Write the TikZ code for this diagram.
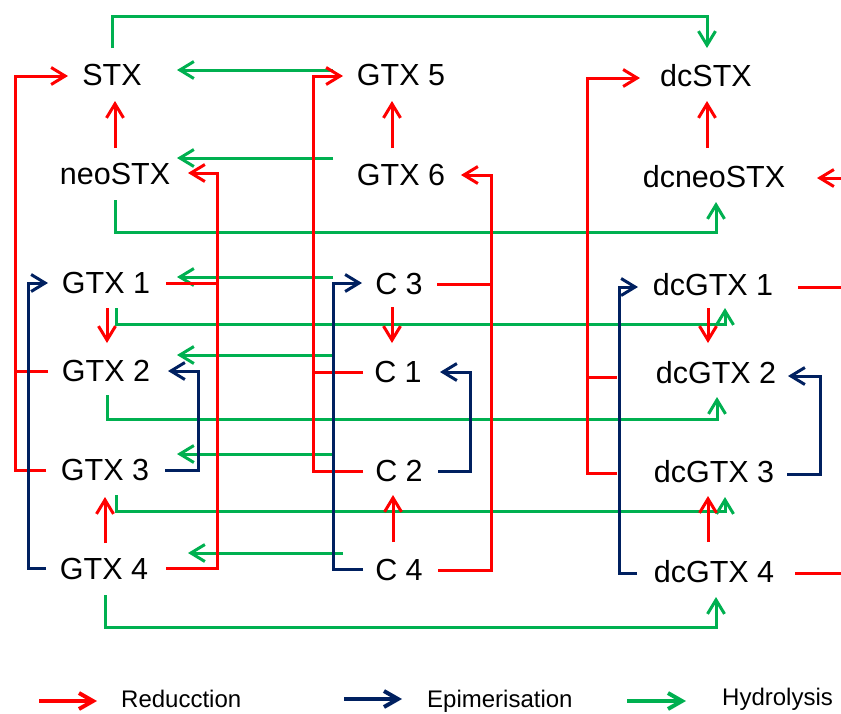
\documentclass[tikz,border=0pt]{standalone}
\usepackage{fontspec}
\setmainfont{Liberation Sans}
\usetikzlibrary{arrows.meta,calc}
\definecolor{rd}{HTML}{FF0000}
\definecolor{gn}{HTML}{00B050}
\definecolor{nv}{HTML}{002060}
\begin{document}
\begin{tikzpicture}[x=1pt,y=-1pt,
  lbl/.style={inner sep=0pt,font=\fontsize{30.5}{36}\selectfont},
  leg/.style={inner sep=0pt,anchor=base west,font=\fontsize{24}{28}\selectfont},
  tipx/.style={-{Straight Barb[length=14pt,width=17pt]}},
  legtip/.style={-{Straight Barb[length=14pt,width=16pt]}},
  rl/.style={draw=rd,line width=3pt},
  gl/.style={draw=gn,line width=3pt},
  nl/.style={draw=nv,line width=3pt},
  legline/.style={line width=4pt,legtip}]
\useasboundingbox (0,0) rectangle (841,713);
\clip (0,0) rectangle (841,713);
% nodes
\node[lbl] (stx) at (112,75) {STX};
\node[lbl] (neo) at (115,174) {neoSTX};
\node[lbl] (g1) at (106,283) {GTX 1};
\node[lbl] (g2) at (106,371) {GTX 2};
\node[lbl] (g3) at (105,470) {GTX 3};
\node[lbl] (g4) at (104,569) {GTX 4};
\node[lbl] (g5) at (401,75) {GTX 5};
\node[lbl] (g6) at (401,175) {GTX 6};
\node[lbl] (c3) at (399,284) {C 3};
\node[lbl] (c1) at (398,372) {C 1};
\node[lbl] (c2) at (399,471) {C 2};
\node[lbl] (c4) at (399,570) {C 4};
\node[lbl] (dcs) at (706,76) {dcSTX};
\node[lbl] (dcn) at (714,177) {dcneoSTX};
\node[lbl] (d1) at (713,285) {dcGTX 1};
\node[lbl] (d2) at (716,373) {dcGTX 2};
\node[lbl] (d3) at (714,472) {dcGTX 3};
\node[lbl] (d4) at (714,572) {dcGTX 4};
% green: hydrolysis
\draw[gl,tipx] ($(stx)+(0,-27)$) |- ($(dcs)+(1,-60)$) -- ($(dcs)+(1,-28)$);
\draw[gl,tipx] ($(g5)+(-68,-5)$) -- ($(stx)+(65,-5)$);
\draw[gl,tipx] ($(g6)+(-68,-17)$) -- ($(neo)+(62,-16)$);
\draw[gl,tipx] ($(neo)+(0,26)$) -- ($(neo)+(0,58)$) -| ($(dcn)+(2,25)$);
\draw[gl,tipx] ($(c3)+(-66,-7)$) -- ($(g1)+(71,-6)$);
\draw[gl,tipx] ($(g1)+(10,25)$) -- ($(g1)+(10,41)$) -| ($(d1)+(12,23)$);
\draw[gl,tipx] ($(c1)+(-65,-17)$) -- ($(g2)+(71,-16)$);
\draw[gl,tipx] ($(g2)+(1,24)$) -- ($(g2)+(1,48)$) -| ($(d2)+(1,24)$);
\draw[gl,tipx] ($(c2)+(-66,-17)$) -- ($(g3)+(72,-16)$);
\draw[gl,tipx] ($(g3)+(11,25)$) -- ($(g3)+(11,41)$) -| ($(d3)+(11,25)$);
\draw[gl,tipx] ($(c4)+(-56,-17)$) -- ($(g4)+(84,-16)$);
\draw[gl,tipx] ($(g4)+(1,26)$) -- ($(g4)+(1,58)$) -| ($(d4)+(2,25)$);
% red: reduction
\draw[rl,tipx] ($(neo)+(0,-26)$) -- ($(stx)+(3,26)$);
\draw[rl,tipx] ($(g6)+(-9,-27)$) -- ($(g5)+(-9,26)$);
\draw[rl,tipx] ($(dcn)+(-7,-29)$) -- ($(dcs)+(1,25)$);
\draw[rl,tipx] ($(g1)+(1,25)$) -- ($(g2)+(1,-28)$);
\draw[rl,tipx] ($(c3)+(-7,23)$) -- ($(c1)+(-6,-29)$);
\draw[rl,tipx] ($(d1)+(-5,23)$) -- ($(d2)+(-8,-30)$);
\draw[rl,tipx] ($(g4)+(1,-26)$) -- ($(g3)+(0,27)$);
\draw[rl,tipx] ($(c4)+(-6,-28)$) -- ($(c2)+(-6,24)$);
\draw[rl,tipx] ($(d4)+(-6,-30)$) -- ($(d3)+(-6,24)$);
\draw[rl,tipx] ($(g3)+(-59,0)$) -- (15,470) |- ($(stx)+(-44,1)$);
\draw[rl] ($(g2)+(-58,0)$) -- (15,371);
\draw[rl,tipx] ($(c2)+(-36,0)$) -- (313,471) |- ($(g5)+(-58,1)$);
\draw[rl] ($(c1)+(-35,0)$) -- (313,372);
\draw[rl,tipx] ($(g4)+(62,-1)$) -- (217,568) |- ($(neo)+(73,-1)$);
\draw[rl] ($(g1)+(60,0)$) -- (217,283);
\draw[rl,tipx] ($(c4)+(39,0)$) -- (491,570) |- ($(g6)+(60,0)$);
\draw[rl] ($(c3)+(38,0)$) -- (491,284);
\draw[rl,tipx] ($(d3)+(-97,1)$) -- (587,473) |- ($(dcs)+(-66,2)$);
\draw[rl] ($(d2)+(-99,4)$) -- (587,377);
\draw[rl,tipx] ($(d4)+(81,1)$) -- (870,573) |- ($(dcn)+(103,1)$);
\draw[rl] ($(d1)+(85,2)$) -- (870,287);
% navy: epimerisation
\draw[nl,tipx] ($(g4)+(-58,-1)$) -- (28,568) |- ($(g1)+(-58,0)$);
\draw[nl,tipx] ($(g3)+(60,0)$) -- (198,470) |- ($(g2)+(62,0)$);
\draw[nl,tipx] ($(c4)+(-36,-1)$) -- (333,569) |- ($(c3)+(-37,-1)$);
\draw[nl,tipx] ($(c2)+(39,0)$) -- (470,471) |- ($(c1)+(42,0)$);
\draw[nl,tipx] ($(d4)+(-77,1)$) -- (619,573) |- ($(d1)+(-75,2)$);
\draw[nl,tipx] ($(d3)+(73,2)$) -- (820,474) |- ($(d2)+(72,3)$);
% legend
\coordinate (lr0) at (39,701); \coordinate (lr1) at (97,701);
\coordinate (ln0) at (344,699); \coordinate (ln1) at (402,699);
\coordinate (lg0) at (627,701); \coordinate (lg1) at (686,701);
\draw[legline,draw=rd] (lr0) -- (lr1);
\draw[legline,draw=nv] (ln0) -- (ln1);
\draw[legline,draw=gn] (lg0) -- (lg1);
\node[leg] (tr) at (121,707) {Reducction};
\node[leg] (tn) at (427,707) {Epimerisation};
\node[leg] (tg) at (722,705) {Hydrolysis};
\end{tikzpicture}
\end{document}
